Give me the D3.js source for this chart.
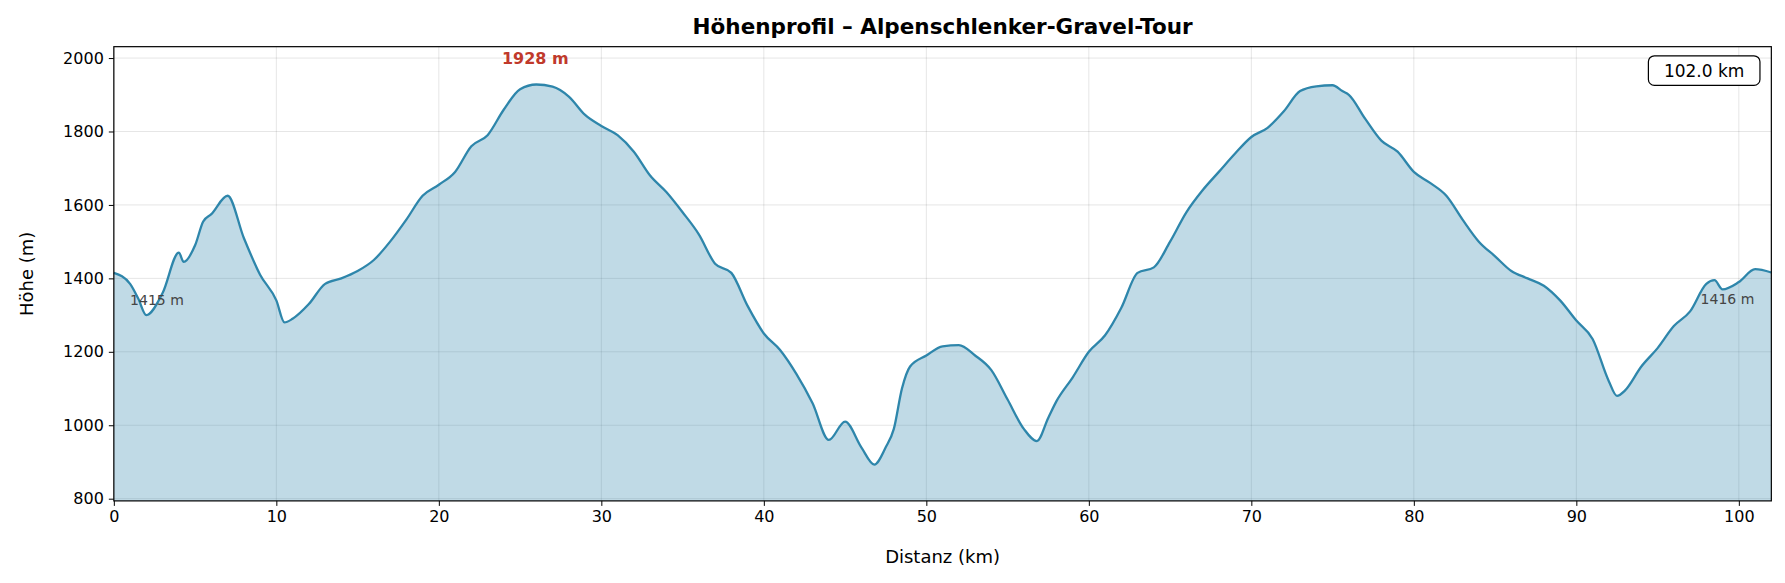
<!DOCTYPE html>
<html><head><meta charset="utf-8">
<script src="https://cdn.jsdelivr.net/npm/d3@7"></script>
<style>body{margin:0;background:#fff}svg{font-family:"DejaVu Sans",sans-serif}</style>
</head><body><svg id="c" width="1785" height="583"></svg>
<script>
const distKm=[0,1,1.5,2,3,4,4.3,5,5.5,6,7,8,9,10,10.5,11,12,13,14,15,16,17,18,19,20,21,22,23,24,25,26,27,28,29,30,31,32,33,34,35,36,37,38,39,40,41,42,43,44,45,46,46.8,47.5,48,48.5,49,50,51,52,53,54,55,56,56.8,57.5,58,59,60,61,62,63,64,65,66,67,68,69,70,71,72,73,74,75,75.6,76,77,78,79,80,81,82,83,84,85,86,87,88,89,90,91,92,92.5,93,94,95,96,97,98,98.5,99,100,101,102];
const elevM=[1415,1385,1345,1300,1360,1470,1445,1490,1555,1575,1625,1510,1410,1340,1280,1290,1330,1385,1400,1420,1450,1500,1560,1625,1655,1690,1760,1790,1860,1915,1928,1922,1895,1845,1815,1790,1745,1680,1635,1580,1520,1440,1415,1325,1250,1205,1140,1060,960,1010,940,893,940,990,1100,1160,1190,1215,1218,1190,1150,1070,990,957,1020,1065,1130,1200,1245,1320,1415,1430,1500,1580,1640,1690,1740,1785,1810,1855,1910,1923,1926,1910,1900,1835,1775,1745,1690,1660,1625,1560,1500,1460,1420,1400,1380,1340,1285,1235,1120,1080,1095,1160,1210,1270,1310,1385,1395,1370,1390,1425,1416];
const xTicks=[0,10,20,30,40,50,60,70,80,90,100];
const yTicks=[800,1000,1200,1400,1600,1800,2000];
const data=distKm.map((d,i)=>({d,e:elevM[i]}));
const k=1785/1568;
const L=100*k,R=1556*k,T=41*k,B=440*k;
const svg=d3.select("#c");
const x=d3.scaleLinear().domain([0,102]).range([L,R]);
const y=d3.scaleLinear().domain([794,2031]).range([B,T]);
const g=svg.append("g");
g.selectAll(".gx").data(xTicks).join("line").attr("x1",d=>x(d)).attr("x2",d=>x(d)).attr("y1",T).attr("y2",B).attr("stroke","#000").attr("stroke-opacity",0.1);
g.selectAll(".gy").data(yTicks).join("line").attr("x1",L).attr("x2",R).attr("y1",d=>y(d)).attr("y2",d=>y(d)).attr("stroke","#000").attr("stroke-opacity",0.1);
const curve=d3.curveMonotoneX;
svg.append("path").datum(data).attr("d",d3.area().x(d=>x(d.d)).y0(B).y1(d=>y(d.e)).curve(curve)).attr("fill","#2e86ab").attr("fill-opacity",0.3);
svg.append("path").datum(data).attr("d",d3.line().x(d=>x(d.d)).y(d=>y(d.e)).curve(curve)).attr("fill","none").attr("stroke","#2e86ab").attr("stroke-width",2.3);
svg.append("rect").attr("x",L).attr("y",T).attr("width",R-L).attr("height",B-T).attr("fill","none").attr("stroke","#000").attr("stroke-width",1.2);
const ax=svg.append("g").attr("transform",`translate(0,${B})`).call(d3.axisBottom(x).tickValues(xTicks).tickFormat(d3.format("d")).tickSize(5).tickPadding(5));
const ay=svg.append("g").attr("transform",`translate(${L},0)`).call(d3.axisLeft(y).tickValues(yTicks).tickFormat(d3.format("d")).tickSize(5).tickPadding(5));
[ax,ay].forEach(a=>{a.select(".domain").remove();a.selectAll("text").attr("font-size",16).attr("fill","#000").attr("font-family","DejaVu Sans");});
svg.append("text").attr("x",(L+R)/2).attr("y",34).attr("text-anchor","middle").attr("font-size",21.5).attr("font-weight","bold").text("Höhenprofil – Alpenschlenker-Gravel-Tour");
svg.append("text").attr("x",(L+R)/2).attr("y",563).attr("text-anchor","middle").attr("font-size",18).text("Distanz (km)");
svg.append("text").attr("transform",`translate(33,${(T+B)/2}) rotate(-90)`).attr("text-anchor","middle").attr("font-size",18).text("Höhe (m)");
svg.append("text").attr("x",x(1)).attr("y",y(1415)+32).attr("font-size",14).attr("fill","#444").text(elevM[0]+" m");
svg.append("text").attr("x",x(102)-17).attr("y",y(1416)+32).attr("text-anchor","end").attr("font-size",14).attr("fill","#444").text(elevM[elevM.length-1]+" m");
const maxI=d3.maxIndex(elevM);
svg.append("text").attr("x",x(distKm[maxI])-1).attr("y",64).attr("text-anchor","middle").attr("font-size",16).attr("font-weight","bold").attr("fill","#c0392b").text(elevM[maxI]+" m");
svg.append("rect").attr("x",1448*k).attr("y",49*k).attr("width",98*k).attr("height",26*k).attr("rx",6).attr("fill","#fff").attr("stroke","#000").attr("stroke-width",1.2);
svg.append("text").attr("x",1497*k).attr("y",67*k+1).attr("text-anchor","middle").attr("font-size",17).text("102.0 km");
</script></body></html>
